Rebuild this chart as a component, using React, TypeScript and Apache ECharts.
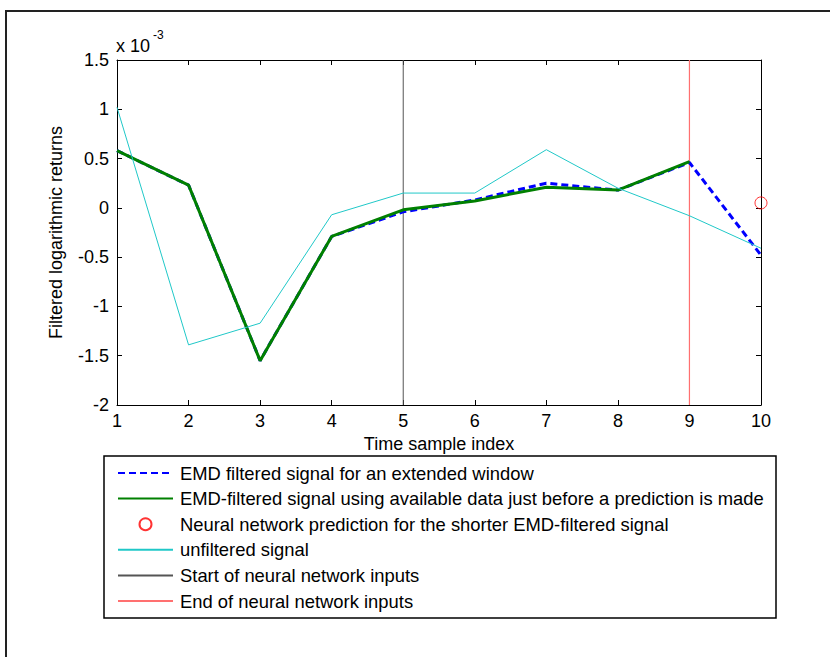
import React, { useEffect, useRef } from "react";
import * as echarts from "echarts";

const xIndex = [1, 2, 3, 4, 5, 6, 7, 8, 9, 10];
const extendedWindow = [0.58, 0.23, -1.55, -0.29, -0.04, 0.08, 0.25, 0.18, 0.46, -0.48];
const availableData = [0.58, 0.23, -1.55, -0.29, -0.02, 0.07, 0.21, 0.18, 0.47];
const predictionIndex = 10;
const predictionValue = 0.05;
const unfiltered = [1.02, -1.39, -1.17, -0.07, 0.15, 0.15, 0.59, 0.2, -0.08, -0.41];
const startInputsIndex = 5;
const endInputsIndex = 9;
const yMin = -2;
const yMax = 1.5;
const seriesNames = [
  "EMD filtered signal for an extended window",
  "EMD-filtered signal using available data just before a prediction is made",
  "Neural network prediction for the shorter EMD-filtered signal",
  "unfiltered signal",
  "Start of neural network inputs",
  "End of neural network inputs",
];

const FONT = "'Liberation Sans', Arial, sans-serif";
const FS = 18;

export default function App() {
  const ref = useRef<HTMLDivElement>(null);
  useEffect(() => {
    document.body.style.margin = "0";
    const chart = echarts.init(ref.current!, undefined, { renderer: "svg" });
    const pairs = (ys: number[]) => ys.map((y, i) => [xIndex[i], y]);
    const axisCommon = {
      axisLine: { show: true, onZero: false, lineStyle: { color: "#000", width: 1 } },
      axisTick: { show: true, inside: true, length: 5, lineStyle: { color: "#000" } },
      splitLine: { show: false },
    };
    chart.setOption({
      animation: false,
      backgroundColor: "#fff",
      textStyle: { fontFamily: FONT },
      grid: { left: 117, right: 69, top: 60, bottom: 252, containLabel: false },
      xAxis: [
        {
          type: "value",
          min: 1,
          max: 10,
          interval: 1,
          ...axisCommon,
          axisLabel: { color: "#000", fontSize: FS, fontFamily: FONT, margin: 7 },
          name: "Time sample index",
          nameLocation: "middle",
          nameGap: 26,
          nameTextStyle: { color: "#000", fontSize: FS, fontFamily: FONT },
        },
        {
          type: "value",
          position: "top",
          min: 1,
          max: 10,
          interval: 1,
          ...axisCommon,
          axisLabel: { show: false },
        },
      ],
      yAxis: [
        {
          type: "value",
          min: yMin,
          max: yMax,
          interval: 0.5,
          ...axisCommon,
          axisLabel: { color: "#000", fontSize: FS, fontFamily: FONT, margin: 8 },
          name: "Filtered logarithmic returns",
          nameLocation: "middle",
          nameGap: 52,
          nameTextStyle: { color: "#000", fontSize: FS, fontFamily: FONT },
        },
        {
          type: "value",
          position: "right",
          min: yMin,
          max: yMax,
          interval: 0.5,
          ...axisCommon,
          axisLabel: { show: false },
        },
      ],
      legend: {
        orient: "vertical",
        left: 117,
        top: 464,
        itemWidth: 55,
        itemHeight: 12,
        itemGap: 7.6,
        padding: 0,
        textStyle: { color: "#000", fontSize: 18.4, fontFamily: FONT, padding: [0, 0, 0, 2] },
        data: [
          { name: seriesNames[0], itemStyle: { opacity: 0 } },
          { name: seriesNames[1], itemStyle: { opacity: 0 } },
          { name: seriesNames[2] },
          { name: seriesNames[3], itemStyle: { opacity: 0 } },
          { name: seriesNames[4], itemStyle: { opacity: 0 } },
          { name: seriesNames[5], itemStyle: { opacity: 0 } },
        ],
      },
      graphic: [
        {
          type: "polyline",
          shape: { points: [[6, 657], [6, 11], [830, 11]] },
          style: { stroke: "#222", lineWidth: 2, fill: "none" },
          silent: true,
        },
        {
          type: "rect",
          shape: { x: 104, y: 456, width: 672, height: 162 },
          style: { stroke: "#000", lineWidth: 1.5, fill: "none" },
          silent: true,
        },
        {
          type: "text",
          left: 116,
          top: 37,
          style: { text: "x 10", fontSize: FS, fontFamily: FONT, fill: "#000" },
        },
        {
          type: "text",
          left: 153,
          top: 29,
          style: { text: "-3", fontSize: 12, fontFamily: FONT, fill: "#000" },
        },
      ],
      series: [
        {
          name: seriesNames[0],
          type: "line",
          data: pairs(extendedWindow),
          symbol: "none",
          lineStyle: { color: "#0000ff", width: 3, type: [7, 4] },
          itemStyle: { color: "#0000ff" },
          z: 3,
        },
        {
          name: seriesNames[1],
          type: "line",
          data: pairs(availableData),
          symbol: "none",
          lineStyle: { color: "#008000", width: 3 },
          itemStyle: { color: "#008000" },
          z: 4,
        },
        {
          name: seriesNames[2],
          type: "scatter",
          data: [[predictionIndex, predictionValue]],
          symbol: "circle",
          symbolSize: 12,
          clip: false,
          itemStyle: { color: "rgba(255,255,255,0)", borderColor: "#ff0000", borderWidth: 1 },
          z: 6,
        },
        {
          name: seriesNames[3],
          type: "line",
          data: pairs(unfiltered),
          symbol: "none",
          lineStyle: { color: "#20c8c8", width: 1 },
          itemStyle: { color: "#20c8c8" },
          z: 5,
        },
        {
          name: seriesNames[4],
          type: "line",
          data: [[startInputsIndex, yMin], [startInputsIndex, yMax]],
          symbol: "none",
          lineStyle: { color: "#555", width: 1 },
          itemStyle: { color: "#555" },
          z: 2,
        },
        {
          name: seriesNames[5],
          type: "line",
          data: [[endInputsIndex, yMin], [endInputsIndex, yMax]],
          symbol: "none",
          lineStyle: { color: "#ff7070", width: 1.2 },
          itemStyle: { color: "#ff7070" },
          z: 2,
        },
      ],
    });
    return () => chart.dispose();
  }, []);
  return <div ref={ref} style={{ width: 830, height: 657 }} />;
}
